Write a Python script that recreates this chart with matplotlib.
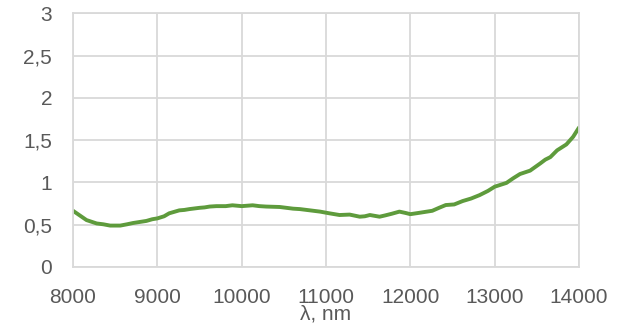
import matplotlib.pyplot as plt
from matplotlib.ticker import FuncFormatter

# spectrum, wavelength in nm
wavelength = [8000, 8080, 8160, 8280, 8360, 8440, 8560, 8640, 8710, 8870, 8940, 9000,
              9080, 9140, 9260, 9320, 9380, 9500, 9560, 9620, 9700, 9810, 9890, 10000,
              10130, 10210, 10290, 10450, 10530, 10610, 10690, 10770, 10850, 10930,
              11040, 11160, 11280, 11400, 11460, 11520, 11635, 11700, 11780, 11870,
              11940, 12000, 12100, 12260, 12340, 12420, 12520, 12620, 12720, 12820,
              12920, 13000, 13140, 13220, 13300, 13420, 13540, 13600, 13660, 13740,
              13850, 13930, 14000]
values = [0.665, 0.61, 0.555, 0.515, 0.505, 0.49, 0.49, 0.505, 0.52, 0.545, 0.565, 0.575,
          0.60, 0.635, 0.67, 0.675, 0.685, 0.70, 0.705, 0.715, 0.72, 0.72, 0.73, 0.72,
          0.73, 0.72, 0.715, 0.71, 0.70, 0.69, 0.685, 0.675, 0.665, 0.655,
          0.635, 0.615, 0.62, 0.595, 0.60, 0.615, 0.595, 0.61, 0.63, 0.655,
          0.64, 0.625, 0.64, 0.665, 0.70, 0.733, 0.74, 0.78, 0.81, 0.85,
          0.90, 0.95, 0.995, 1.05, 1.10, 1.14, 1.225, 1.27, 1.30, 1.38,
          1.45, 1.54, 1.65]

xticks = [8000, 9000, 10000, 11000, 12000, 13000, 14000]
yticks = [0, 0.5, 1, 1.5, 2, 2.5, 3]

plt.rcParams['font.family'] = ['Liberation Sans', 'DejaVu Sans']

fig = plt.figure(figsize=(6.21, 3.27), dpi=100)
ax = fig.add_axes([0.1176, 0.1835, 0.8148, 0.7755])

ax.plot(wavelength, values, color='#5E9B3C', lw=2.8, solid_capstyle='round')

ax.set_xlim(8000, 14000)
ax.set_ylim(0, 3)
ax.set_xticks(xticks)
ax.set_yticks(yticks)
ax.yaxis.set_major_formatter(FuncFormatter(lambda v, p: ('%g' % v).replace('.', ',')))
ax.grid(True, color='#D9D9D9', lw=1.3)
ax.set_axisbelow(True)
for s in ax.spines.values():
    s.set_color('#D9D9D9')
    s.set_linewidth(1.3)
ax.tick_params(length=0, labelsize=15, labelcolor='#595959', pad=15)
ax.set_xlabel('λ, nm', fontsize=15, color='#595959', labelpad=-2)

fig.savefig('out.png')
